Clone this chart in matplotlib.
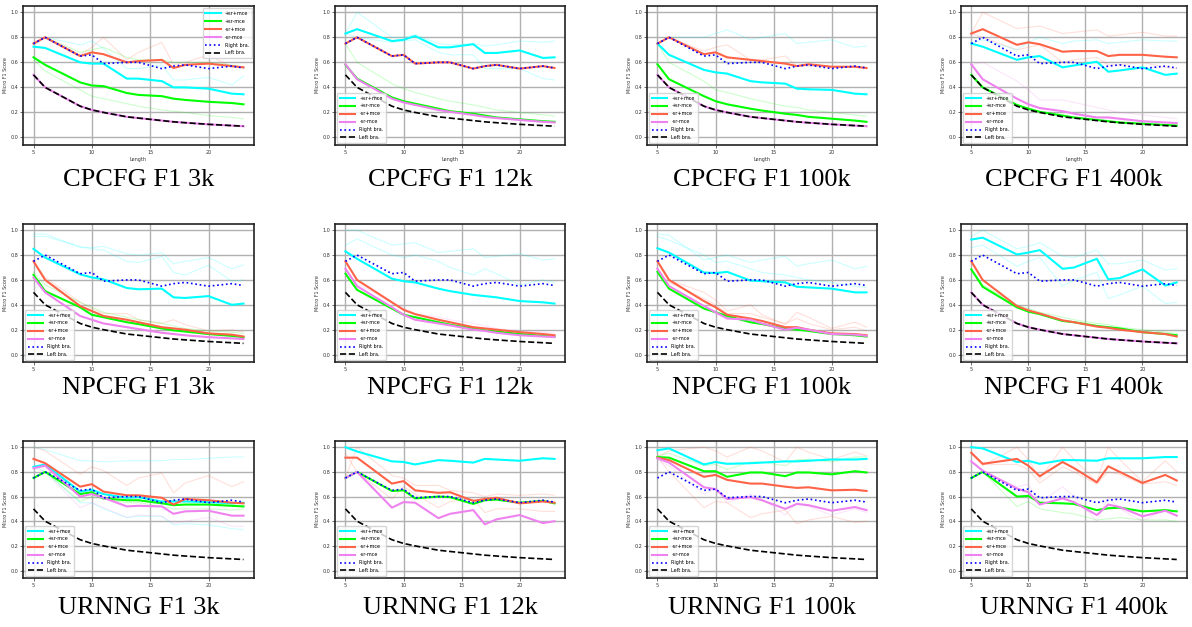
import matplotlib
matplotlib.use("Agg")
import matplotlib.pyplot as plt

# sentence lengths on the x axis
lengths = [5, 6, 9, 10, 11, 13, 14, 16, 17, 18, 20, 22, 23]

# baselines (same in every panel)
right_bra = [0.75, 0.80, 0.65, 0.66, 0.59, 0.60, 0.60, 0.55, 0.57, 0.58, 0.55, 0.57, 0.555]
left_bra = [0.50, 0.40, 0.25, 0.22, 0.20, 0.165, 0.155, 0.135, 0.125, 0.118, 0.105, 0.095, 0.09]

series_names = ["+sr+mce", "+sr-mce", "-sr+mce", "-sr-mce"]
series_colors = ["#00ffff", "#00ff00", "#ff6347", "#ee82ee"]

# mean curves per panel: [+sr+mce, +sr-mce, -sr+mce, -sr-mce]
cpcfg_3k = [
    [0.725, 0.715, 0.60, 0.59, 0.59, 0.47, 0.47, 0.45, 0.40, 0.40, 0.39, 0.35, 0.345],
    [0.64, 0.58, 0.44, 0.415, 0.41, 0.355, 0.34, 0.33, 0.31, 0.30, 0.285, 0.275, 0.265],
    [0.75, 0.80, 0.65, 0.68, 0.665, 0.60, 0.61, 0.62, 0.555, 0.58, 0.59, 0.57, 0.56],
    [0.50, 0.40, 0.25, 0.22, 0.20, 0.165, 0.155, 0.135, 0.125, 0.118, 0.105, 0.095, 0.09],
]
cpcfg_12k = [
    [0.83, 0.865, 0.77, 0.78, 0.81, 0.72, 0.72, 0.745, 0.675, 0.675, 0.695, 0.635, 0.64],
    [0.58, 0.47, 0.32, 0.29, 0.27, 0.23, 0.21, 0.19, 0.175, 0.16, 0.145, 0.13, 0.125],
    [0.75, 0.80, 0.65, 0.66, 0.59, 0.60, 0.60, 0.55, 0.57, 0.58, 0.55, 0.57, 0.555],
    [0.585, 0.465, 0.31, 0.28, 0.26, 0.22, 0.205, 0.18, 0.165, 0.155, 0.14, 0.125, 0.12],
]
cpcfg_100k = [
    [0.75, 0.66, 0.54, 0.52, 0.51, 0.45, 0.44, 0.43, 0.39, 0.385, 0.38, 0.35, 0.345],
    [0.585, 0.465, 0.33, 0.29, 0.265, 0.23, 0.215, 0.19, 0.18, 0.165, 0.15, 0.135, 0.125],
    [0.75, 0.80, 0.665, 0.68, 0.64, 0.62, 0.61, 0.59, 0.57, 0.585, 0.565, 0.565, 0.555],
    [0.50, 0.40, 0.25, 0.22, 0.20, 0.165, 0.155, 0.135, 0.125, 0.118, 0.105, 0.095, 0.09],
]
cpcfg_400k = [
    [0.75, 0.725, 0.62, 0.64, 0.65, 0.56, 0.575, 0.605, 0.525, 0.535, 0.56, 0.50, 0.51],
    [0.50, 0.40, 0.26, 0.23, 0.205, 0.175, 0.16, 0.14, 0.13, 0.12, 0.11, 0.10, 0.095],
    [0.83, 0.865, 0.74, 0.76, 0.745, 0.685, 0.69, 0.69, 0.65, 0.66, 0.66, 0.645, 0.64],
    [0.585, 0.465, 0.31, 0.265, 0.235, 0.21, 0.19, 0.16, 0.16, 0.15, 0.13, 0.12, 0.115],
]
npcfg_3k = [
    [0.85, 0.78, 0.645, 0.62, 0.605, 0.535, 0.525, 0.53, 0.46, 0.455, 0.47, 0.40, 0.41],
    [0.64, 0.51, 0.38, 0.32, 0.30, 0.26, 0.245, 0.21, 0.195, 0.185, 0.165, 0.15, 0.14],
    [0.75, 0.60, 0.39, 0.35, 0.31, 0.28, 0.26, 0.22, 0.21, 0.20, 0.17, 0.16, 0.145],
    [0.62, 0.50, 0.31, 0.28, 0.25, 0.22, 0.205, 0.175, 0.165, 0.155, 0.14, 0.13, 0.125],
]
npcfg_12k = [
    [0.83, 0.77, 0.61, 0.59, 0.58, 0.53, 0.51, 0.48, 0.47, 0.46, 0.43, 0.42, 0.41],
    [0.65, 0.52, 0.37, 0.32, 0.30, 0.26, 0.24, 0.21, 0.195, 0.185, 0.165, 0.15, 0.145],
    [0.75, 0.60, 0.42, 0.36, 0.325, 0.28, 0.26, 0.22, 0.21, 0.20, 0.18, 0.165, 0.155],
    [0.69, 0.55, 0.38, 0.32, 0.28, 0.25, 0.235, 0.20, 0.19, 0.175, 0.155, 0.145, 0.14],
]
npcfg_100k = [
    [0.855, 0.82, 0.66, 0.655, 0.665, 0.595, 0.59, 0.58, 0.545, 0.54, 0.53, 0.50, 0.50],
    [0.665, 0.53, 0.37, 0.34, 0.31, 0.26, 0.245, 0.21, 0.20, 0.19, 0.165, 0.155, 0.145],
    [0.75, 0.60, 0.43, 0.38, 0.32, 0.29, 0.27, 0.22, 0.22, 0.20, 0.17, 0.165, 0.155],
    [0.69, 0.55, 0.39, 0.34, 0.29, 0.28, 0.25, 0.20, 0.215, 0.20, 0.165, 0.16, 0.15],
]
npcfg_400k = [
    [0.925, 0.94, 0.805, 0.82, 0.84, 0.69, 0.70, 0.77, 0.605, 0.615, 0.685, 0.555, 0.58],
    [0.685, 0.545, 0.38, 0.345, 0.325, 0.27, 0.26, 0.23, 0.22, 0.21, 0.18, 0.165, 0.155],
    [0.75, 0.60, 0.39, 0.355, 0.33, 0.275, 0.26, 0.225, 0.215, 0.20, 0.18, 0.165, 0.145],
    [0.50, 0.40, 0.25, 0.22, 0.20, 0.165, 0.155, 0.135, 0.125, 0.118, 0.105, 0.095, 0.09],
]
urnng_3k = [
    [0.84, 0.86, 0.64, 0.655, 0.62, 0.59, 0.595, 0.56, 0.56, 0.56, 0.555, 0.545, 0.55],
    [0.75, 0.80, 0.62, 0.635, 0.585, 0.57, 0.57, 0.545, 0.53, 0.535, 0.535, 0.525, 0.52],
    [0.905, 0.87, 0.68, 0.70, 0.64, 0.61, 0.61, 0.59, 0.535, 0.58, 0.57, 0.55, 0.545],
    [0.83, 0.85, 0.60, 0.62, 0.59, 0.52, 0.525, 0.52, 0.46, 0.48, 0.485, 0.445, 0.445],
]
urnng_12k = [
    [1.0, 0.965, 0.885, 0.88, 0.86, 0.895, 0.89, 0.875, 0.905, 0.90, 0.89, 0.91, 0.905],
    [0.75, 0.80, 0.645, 0.65, 0.585, 0.60, 0.595, 0.54, 0.57, 0.575, 0.55, 0.565, 0.545],
    [0.915, 0.915, 0.705, 0.725, 0.65, 0.63, 0.635, 0.565, 0.58, 0.59, 0.545, 0.56, 0.55],
    [0.75, 0.80, 0.51, 0.555, 0.55, 0.425, 0.46, 0.49, 0.375, 0.415, 0.45, 0.385, 0.40],
]
urnng_100k = [
    [0.975, 0.99, 0.86, 0.88, 0.865, 0.87, 0.875, 0.885, 0.885, 0.89, 0.90, 0.90, 0.905],
    [0.92, 0.915, 0.805, 0.805, 0.76, 0.795, 0.795, 0.765, 0.795, 0.795, 0.78, 0.805, 0.795],
    [0.915, 0.895, 0.76, 0.775, 0.735, 0.705, 0.705, 0.68, 0.67, 0.675, 0.65, 0.655, 0.645],
    [0.91, 0.875, 0.675, 0.66, 0.58, 0.595, 0.57, 0.50, 0.54, 0.53, 0.485, 0.515, 0.49],
]
urnng_400k = [
    [1.0, 0.99, 0.88, 0.89, 0.865, 0.895, 0.895, 0.89, 0.91, 0.91, 0.91, 0.92, 0.92],
    [0.75, 0.80, 0.60, 0.605, 0.55, 0.545, 0.54, 0.49, 0.505, 0.51, 0.48, 0.49, 0.48],
    [0.955, 0.865, 0.905, 0.85, 0.765, 0.88, 0.83, 0.715, 0.845, 0.80, 0.71, 0.775, 0.73],
    [0.885, 0.81, 0.665, 0.635, 0.535, 0.585, 0.555, 0.45, 0.535, 0.515, 0.44, 0.485, 0.445],
]

# faint individual runs per panel: (series index, values)
cpcfg_3k_runs = [
    (0, [0.73, 0.80, 0.74, 0.77, 0.71, 0.55, 0.55, 0.58, 0.46, 0.46, 0.48, 0.42, 0.49]),
    (1, [0.62, 0.53, 0.38, 0.33, 0.31, 0.27, 0.25, 0.22, 0.21, 0.20, 0.175, 0.16, 0.15]),
    (1, [0.75, 0.80, 0.68, 0.70, 0.72, 0.64, 0.62, 0.62, 0.60, 0.60, 0.60, 0.58, 0.56]),
    (2, [0.75, 0.80, 0.66, 0.72, 0.80, 0.62, 0.68, 0.76, 0.58, 0.60, 0.66, 0.56, 0.56]),
]
cpcfg_12k_runs = [
    (0, [0.83, 1.0, 0.80, 0.80, 0.82, 0.75, 0.74, 0.75, 0.73, 0.74, 0.77, 0.76, 0.77]),
    (0, [0.83, 0.80, 0.76, 0.77, 0.78, 0.68, 0.66, 0.66, 0.55, 0.55, 0.55, 0.47, 0.46]),
    (1, [0.75, 0.60, 0.43, 0.39, 0.36, 0.31, 0.29, 0.26, 0.24, 0.22, 0.20, 0.18, 0.17]),
]
cpcfg_100k_runs = [
    (0, [0.75, 0.80, 0.80, 0.83, 0.86, 0.78, 0.80, 0.83, 0.75, 0.76, 0.78, 0.72, 0.73]),
    (1, [0.75, 0.60, 0.45, 0.38, 0.36, 0.31, 0.29, 0.25, 0.24, 0.22, 0.20, 0.18, 0.17]),
    (2, [0.75, 0.80, 0.69, 0.72, 0.74, 0.62, 0.62, 0.65, 0.57, 0.57, 0.56, 0.56, 0.55]),
]
cpcfg_400k_runs = [
    (2, [0.83, 1.0, 0.87, 0.88, 0.89, 0.83, 0.84, 0.86, 0.81, 0.82, 0.84, 0.81, 0.81]),
    (2, [0.83, 0.80, 0.70, 0.72, 0.74, 0.60, 0.62, 0.64, 0.58, 0.58, 0.60, 0.56, 0.55]),
    (0, [0.75, 0.78, 0.70, 0.76, 0.80, 0.75, 0.77, 0.78, 0.75, 0.76, 0.78, 0.77, 0.77]),
    (3, [0.58, 0.60, 0.45, 0.38, 0.30, 0.30, 0.28, 0.24, 0.22, 0.20, 0.18, 0.16, 0.15]),
]
npcfg_3k_runs = [
    (0, [0.97, 0.97, 0.86, 0.86, 0.87, 0.81, 0.80, 0.82, 0.73, 0.75, 0.78, 0.69, 0.72]),
    (0, [0.95, 0.95, 0.87, 0.85, 0.84, 0.75, 0.74, 0.79, 0.66, 0.64, 0.72, 0.59, 0.60]),
    (2, [0.75, 0.62, 0.42, 0.37, 0.33, 0.33, 0.28, 0.25, 0.28, 0.24, 0.19, 0.20, 0.18]),
    (1, [0.66, 0.56, 0.42, 0.38, 0.34, 0.30, 0.28, 0.25, 0.23, 0.21, 0.19, 0.18, 0.17]),
]
npcfg_12k_runs = [
    (0, [1.0, 1.0, 0.88, 0.89, 0.90, 0.82, 0.83, 0.85, 0.78, 0.79, 0.81, 0.76, 0.77]),
    (0, [0.88, 0.93, 0.80, 0.78, 0.80, 0.75, 0.70, 0.64, 0.69, 0.65, 0.56, 0.60, 0.58]),
    (3, [0.69, 0.57, 0.42, 0.37, 0.33, 0.30, 0.28, 0.25, 0.23, 0.21, 0.19, 0.18, 0.17]),
]
npcfg_100k_runs = [
    (0, [0.97, 0.96, 0.76, 0.78, 0.80, 0.74, 0.76, 0.79, 0.71, 0.73, 0.76, 0.69, 0.71]),
    (0, [0.95, 0.92, 0.80, 0.74, 0.75, 0.69, 0.66, 0.64, 0.62, 0.60, 0.58, 0.55, 0.54]),
    (2, [0.75, 0.60, 0.50, 0.44, 0.35, 0.40, 0.32, 0.24, 0.34, 0.30, 0.21, 0.26, 0.22]),
    (2, [0.75, 0.58, 0.45, 0.40, 0.33, 0.33, 0.30, 0.25, 0.29, 0.25, 0.20, 0.22, 0.19]),
]
npcfg_400k_runs = [
    (0, [0.95, 1.0, 0.85, 0.87, 0.90, 0.79, 0.78, 0.84, 0.73, 0.73, 0.76, 0.68, 0.69]),
    (0, [0.86, 0.88, 0.71, 0.75, 0.78, 0.55, 0.60, 0.66, 0.45, 0.48, 0.55, 0.41, 0.42]),
    (1, [0.69, 0.56, 0.40, 0.37, 0.34, 0.30, 0.28, 0.25, 0.24, 0.22, 0.20, 0.18, 0.17]),
]
urnng_3k_runs = [
    (0, [1.0, 0.98, 0.89, 0.89, 0.88, 0.89, 0.89, 0.89, 0.90, 0.90, 0.91, 0.92, 0.92]),
    (0, [0.85, 0.80, 0.55, 0.55, 0.50, 0.43, 0.44, 0.44, 0.37, 0.38, 0.37, 0.34, 0.33]),
    (2, [1.0, 0.97, 0.78, 0.84, 0.81, 0.69, 0.75, 0.79, 0.63, 0.71, 0.77, 0.68, 0.72]),
    (3, [0.83, 0.80, 0.51, 0.55, 0.51, 0.43, 0.45, 0.44, 0.38, 0.40, 0.43, 0.36, 0.36]),
    (1, [0.75, 0.80, 0.56, 0.60, 0.58, 0.55, 0.55, 0.52, 0.50, 0.50, 0.50, 0.49, 0.50]),
]
urnng_12k_runs = [
    (2, [0.75, 1.0, 0.77, 0.75, 0.69, 0.69, 0.65, 0.63, 0.60, 0.62, 0.61, 0.62, 0.61]),
    (2, [0.95, 0.80, 0.58, 0.68, 0.62, 0.51, 0.56, 0.58, 0.47, 0.50, 0.50, 0.48, 0.48]),
]
urnng_100k_runs = [
    (2, [0.92, 0.97, 1.0, 0.97, 0.92, 1.0, 0.97, 0.88, 1.0, 0.96, 0.90, 0.96, 0.93]),
    (2, [0.92, 0.80, 0.51, 0.56, 0.55, 0.43, 0.46, 0.49, 0.38, 0.41, 0.44, 0.39, 0.40]),
    (1, [0.93, 0.95, 0.85, 0.86, 0.82, 0.88, 0.88, 0.85, 0.90, 0.90, 0.88, 0.92, 0.92]),
    (3, [0.90, 0.85, 0.62, 0.66, 0.55, 0.62, 0.58, 0.45, 0.55, 0.52, 0.45, 0.50, 0.47]),
]
urnng_400k_runs = [
    (2, [0.95, 0.85, 1.0, 0.90, 0.74, 1.0, 0.90, 0.72, 1.0, 0.90, 0.72, 0.89, 0.80]),
    (2, [0.95, 0.86, 0.86, 0.82, 0.71, 0.84, 0.80, 0.70, 0.80, 0.78, 0.70, 0.72, 0.69]),
    (1, [0.75, 0.80, 0.52, 0.56, 0.50, 0.47, 0.46, 0.41, 0.42, 0.43, 0.41, 0.41, 0.40]),
    (3, [0.88, 0.80, 0.68, 0.70, 0.55, 0.68, 0.60, 0.40, 0.60, 0.50, 0.40, 0.50, 0.45]),
]

panels = [
    ("CPCFG F1 3k", cpcfg_3k, cpcfg_3k_runs),
    ("CPCFG F1 12k", cpcfg_12k, cpcfg_12k_runs),
    ("CPCFG F1 100k", cpcfg_100k, cpcfg_100k_runs),
    ("CPCFG F1 400k", cpcfg_400k, cpcfg_400k_runs),
    ("NPCFG F1 3k", npcfg_3k, npcfg_3k_runs),
    ("NPCFG F1 12k", npcfg_12k, npcfg_12k_runs),
    ("NPCFG F1 100k", npcfg_100k, npcfg_100k_runs),
    ("NPCFG F1 400k", npcfg_400k, npcfg_400k_runs),
    ("URNNG F1 3k", urnng_3k, urnng_3k_runs),
    ("URNNG F1 12k", urnng_12k, urnng_12k_runs),
    ("URNNG F1 100k", urnng_100k, urnng_100k_runs),
    ("URNNG F1 400k", urnng_400k, urnng_400k_runs),
]

W, H = 1192, 627
fig = plt.figure(figsize=(W / 100, H / 100), dpi=100)

# panel boxes in pixels
rows_px = [(6, 145), (224, 362), (441, 578)]
cols_px = [(23, 254), (335, 565), (647, 877), (961, 1187)]
caption_y = [180, 388, 608]

for k, (title, means, runs) in enumerate(panels):
    r, c = divmod(k, 4)
    top, bot = rows_px[r]
    left, right = cols_px[c]
    ax = fig.add_axes([left / W, 1 - bot / H, (right - left) / W, (bot - top) / H])

    for idx, vals in runs:
        ax.plot(lengths, vals, color=series_colors[idx], lw=0.8, alpha=0.2)
    for name, col, vals in zip(series_names, series_colors, means):
        ax.plot(lengths, vals, color=col, lw=1.5, label=name)
    ax.plot(lengths, right_bra, color="blue", ls=":", lw=1.2, label="Right bra.")
    ax.plot(lengths, left_bra, color="black", ls="--", lw=1.2, label="Left bra.")

    ax.set_ylim(-0.06, 1.05)
    ax.set_yticks([0.0, 0.2, 0.4, 0.6, 0.8, 1.0])
    ax.set_xticks([5, 10, 15, 20])
    ax.grid(True, color="#b0b0b0", lw=1.0)
    ax.tick_params(labelsize=3.5, length=2, width=0.5, pad=1.5, colors="#333333")
    for s in ax.spines.values():
        s.set_linewidth(1.2)
        s.set_color("#222222")
    ax.set_ylabel("Micro F1 Score", fontsize=3.5, labelpad=2, color="#333333")
    if r == 0:
        ax.set_xlabel("Length", fontsize=3.5, labelpad=1.5, color="#333333")
    ax.legend(loc="upper right" if k == 0 else "lower left", fontsize=3.5,
              handlelength=3.2, borderpad=0.5, labelspacing=0.6)

    fig.text((left + right) / 2 / W, 1 - caption_y[r] / H, title, ha="center", va="center",
             fontsize=19, family="Liberation Serif")

fig.savefig("out.png", dpi=100)
